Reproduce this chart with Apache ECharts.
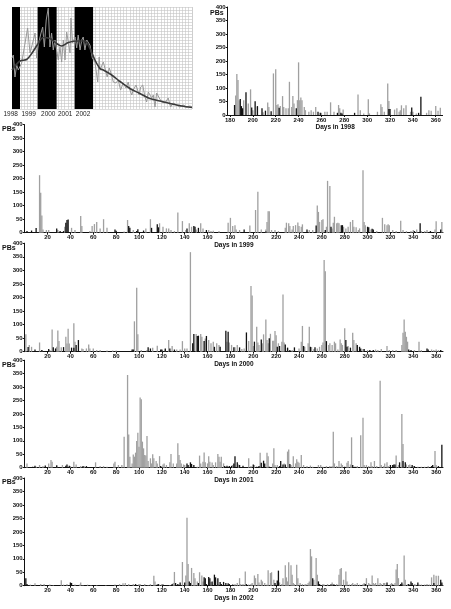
<!DOCTYPE html>
<html><head><meta charset="utf-8">
<script src="https://cdn.jsdelivr.net/npm/echarts@6/dist/echarts.min.js"></script>
<style>html,body{margin:0;padding:0;background:#fff}#c{width:451px;height:609px}</style>
</head><body><div id="c"></div>
<script>
// ---------- inset: solar cycle ----------
const insetYears = ['1998', '1999', '2000', '2001', '2002'];
const insetLabelPos = [1998.43, 1999.4, 2000.45, 2001.36, 2002.32];
const cycleBands = [[1998.5, 1998.93], [1999.88, 2000.9], [2001.87, 2002.86]];
const monthlyCycle = [
[1998.50,102],[1998.57,108],[1998.66,64],[1998.75,88],[1998.84,78],[1999.02,92],[1999.34,162],[1999.47,112],
[1999.65,138],[1999.74,152],[1999.83,102],[1999.91,128],[2000.06,152],[2000.15,164],[2000.24,124],[2000.34,178],
[2000.45,202],[2000.54,124],[2000.63,152],[2000.72,118],[2000.81,138],[2000.99,98],[2001.08,124],[2001.17,94],
[2001.26,138],[2001.35,98],[2001.44,154],[2001.53,152],[2001.62,112],[2001.67,182],[2001.76,132],[2001.89,144],
[2001.98,122],[2002.06,148],[2002.16,118],[2002.25,138],[2002.33,144],[2002.42,118],[2002.52,138],[2002.69,128],
[2002.82,102],[2002.96,94],[2003.11,54],[2003.19,104],[2003.23,78],[2003.41,94],[2003.50,98],[2003.62,64],
[2003.73,82],[2003.82,72],[2003.95,54],[2004.09,52],[2004.21,58],[2004.34,38],[2004.48,52],[2004.63,42],
[2004.75,54],[2004.84,38],[2004.94,28],[2005.02,38],[2005.17,48],[2005.34,28],[2005.42,44],[2005.53,48],
[2005.65,24],[2005.74,14],[2005.83,34],[2006.01,22],[2006.10,28],[2006.19,4],[2006.28,32],[2006.42,22],
[2006.55,14],[2006.73,12],[2006.90,22],[2007.03,4],[2007.17,12],[2007.35,8],[2007.53,4],[2007.71,8],
[2007.89,4],[2008.07,6],[2008.18,4]];
const smoothedCycle = [
[1998.50,78],[1998.93,96],[1999.29,99],[1999.56,111],[1999.91,131],[2000.18,143],[2000.54,141],[2000.90,131],
[2001.17,126],[2001.53,133],[2001.98,136],[2002.42,136],[2002.69,121],[2002.96,98],[2003.23,81],[2003.41,78],
[2003.86,68],[2004.31,55],[2004.84,41],[2005.38,31],[2005.91,21],[2006.45,16],[2006.99,11],[2007.62,6],[2008.18,3]];

// ---------- daily PBs ----------
const years = ['1998', '1999', '2000', '2001', '2002'];
const dayTicks = [180,200,220,240,260,280,300,320,340,360];
const gray1998 = [[185,72],[186,152],[187,130],[188,55],[192,55],[196,43],[198,95],[200,18],[204,30],[209,10],[213,46],[214,30],[218,154],[220,169],[221,37],[222,40],[224,33],[226,70],[227,30],[229,25],[231,25],[232,123],[234,30],[235,70],[236,43],[239,55],[240,195],[241,55],[242,65],[243,55],[245,30],[246,18],[249,12],[251,18],[253,12],[255,30],[260,8],[263,12],[265,12],[268,47],[271,12],[275,37],[276,25],[279,20],[292,76],[294,18],[297,6],[301,58],[302,6],[309,12],[312,40],[313,30],[315,12],[318,117],[319,52],[324,20],[326,25],[328,12],[329,18],[330,36],[332,25],[334,36],[338,12],[340,12],[343,6],[352,8],[354,18],[356,16],[360,33],[362,16],[364,27]];
const black1998 = [[184,37],[189,59],[190,33],[191,25],[194,84],[199,28],[202,51],[204,33],[208,25],[211,16],[216,14],[223,27],[238,25],[257,12],[259,8],[274,8],[277,8],[278,6],[289,8],[319,22],[320,22],[339,28],[345,8],[347,68]];
const gray1999 = [[13,213],[14,148],[15,64],[16,12],[19,10],[21,10],[29,10],[35,22],[41,18],[44,10],[49,62],[50,25],[57,6],[59,25],[61,32],[63,40],[66,16],[69,50],[72,18],[87,4],[90,47],[95,10],[98,6],[106,16],[110,50],[118,35],[121,22],[124,16],[126,16],[128,10],[131,6],[134,75],[138,43],[141,10],[144,35],[146,22],[150,12],[154,35],[156,16],[161,10],[163,6],[165,7],[170,6],[178,37],[180,55],[182,25],[184,28],[185,12],[188,10],[197,27],[202,84],[204,152],[207,12],[211,12],[212,40],[213,79],[214,79],[216,10],[219,10],[222,6],[228,18],[229,37],[231,35],[232,25],[234,12],[235,25],[237,28],[239,38],[240,25],[242,22],[243,31],[249,10],[252,10],[256,101],[257,77],[258,40],[260,47],[261,50],[264,22],[265,192],[267,173],[269,16],[270,37],[271,59],[273,35],[274,37],[275,35],[279,22],[281,16],[283,22],[285,40],[287,47],[288,22],[290,20],[292,10],[293,16],[296,231],[297,40],[298,28],[303,12],[308,6],[313,55],[315,31],[317,28],[318,31],[319,28],[322,10],[325,6],[329,44],[331,10],[334,6],[338,6],[340,10],[343,12],[347,6],[350,6],[352,10],[359,12],[360,42],[365,40]];
const black1999 = [[2,6],[6,8],[10,17],[28,16],[31,6],[34,6],[36,37],[37,47],[38,49],[79,12],[80,7],[91,25],[92,18],[98,6],[99,13],[104,8],[111,18],[116,31],[117,20],[142,16],[148,25],[149,22],[152,18],[159,10],[192,12],[211,4],[247,12],[255,27],[263,10],[268,22],[277,28],[278,28],[300,22],[301,20],[304,15],[305,12],[341,6],[346,35],[355,6],[364,12]];
const gray2000 = [[1,64],[4,25],[6,18],[13,34],[15,6],[22,6],[24,82],[28,18],[29,78],[30,39],[32,16],[36,55],[37,30],[38,85],[39,30],[43,105],[44,37],[50,12],[51,10],[54,12],[56,27],[57,12],[60,12],[63,6],[66,6],[72,4],[77,4],[80,4],[96,112],[98,236],[99,64],[102,6],[107,6],[112,15],[116,22],[120,6],[123,8],[126,43],[129,21],[133,8],[136,8],[138,39],[140,12],[142,12],[145,367],[150,65],[154,65],[155,55],[158,49],[161,43],[163,31],[165,37],[168,31],[170,25],[177,37],[179,34],[181,25],[184,16],[186,25],[190,10],[192,12],[196,39],[198,242],[199,207],[200,21],[203,92],[204,34],[205,25],[208,31],[209,64],[211,119],[212,43],[213,31],[215,66],[217,40],[218,40],[219,76],[220,61],[222,31],[225,37],[226,211],[227,34],[230,12],[234,6],[240,12],[242,37],[243,95],[245,18],[248,31],[249,92],[251,17],[253,10],[256,12],[258,18],[260,25],[261,34],[262,338],[263,297],[266,25],[267,31],[269,25],[271,37],[272,31],[274,8],[276,45],[277,31],[278,25],[280,86],[283,21],[287,70],[288,43],[290,31],[296,10],[300,6],[307,8],[309,6],[312,10],[317,21],[319,6],[322,6],[325,6],[330,25],[331,70],[332,119],[333,74],[334,55],[335,37],[341,6],[345,37],[347,6],[356,8],[358,6],[360,8],[362,6]];
const black2000 = [[3,17],[9,8],[15,6],[21,10],[25,16],[27,12],[34,17],[41,15],[43,15],[45,25],[47,43],[94,8],[95,8],[108,16],[110,12],[119,8],[120,8],[123,12],[127,12],[131,8],[147,31],[148,65],[151,58],[152,59],[157,39],[159,58],[166,18],[171,18],[176,77],[178,74],[183,16],[188,16],[194,71],[201,37],[207,45],[214,50],[221,18],[223,21],[228,27],[230,15],[232,6],[236,16],[244,21],[250,18],[254,16],[264,39],[281,43],[282,18],[285,15],[291,25],[293,18],[294,12],[297,10],[302,6],[305,6],[336,8],[338,6],[352,12],[353,8],[364,6]];
const gray2001 = [[2,16],[10,4],[13,10],[16,6],[21,16],[23,29],[24,22],[28,10],[33,10],[40,6],[43,22],[45,12],[49,6],[52,6],[62,20],[66,6],[69,6],[72,4],[78,16],[79,22],[82,10],[85,10],[87,115],[90,345],[91,124],[92,41],[94,16],[95,49],[96,41],[97,56],[98,99],[99,130],[100,78],[101,261],[102,255],[103,97],[104,72],[105,47],[106,45],[107,118],[108,25],[110,35],[111,16],[112,50],[113,35],[115,25],[116,16],[118,43],[121,12],[122,16],[124,10],[127,20],[128,51],[130,16],[133,16],[134,91],[135,47],[136,29],[137,16],[139,12],[140,10],[151,4],[153,45],[154,16],[156,22],[157,57],[158,20],[160,16],[161,43],[162,22],[164,19],[165,10],[167,20],[169,51],[170,41],[171,22],[172,41],[174,16],[182,10],[187,12],[196,35],[198,6],[201,10],[206,56],[212,56],[213,43],[217,16],[218,72],[219,10],[221,10],[227,16],[230,60],[231,68],[233,10],[235,43],[237,16],[238,31],[239,22],[240,18],[242,47],[244,10],[247,6],[250,8],[252,4],[257,10],[259,10],[261,4],[264,6],[267,6],[269,6],[270,134],[271,16],[273,6],[275,25],[277,16],[278,10],[282,18],[283,25],[285,12],[286,113],[291,6],[294,121],[296,186],[297,10],[299,10],[301,6],[303,20],[304,6],[306,25],[308,6],[311,324],[312,10],[314,6],[315,16],[317,20],[318,6],[325,45],[327,10],[330,200],[331,88],[334,12],[336,10],[337,12],[340,6],[344,4],[347,4],[350,4],[353,6],[359,62],[360,10]];
const black2001 = [[7,4],[9,7],[18,8],[28,8],[36,7],[37,12],[39,7],[51,6],[54,6],[119,6],[142,16],[143,10],[145,20],[146,14],[148,10],[175,6],[177,7],[179,6],[181,7],[183,16],[184,43],[186,20],[188,10],[191,7],[200,12],[203,4],[205,6],[207,18],[209,26],[210,16],[214,4],[223,6],[224,25],[226,12],[228,12],[232,14],[280,4],[287,10],[289,4],[320,10],[322,10],[323,12],[324,12],[328,20],[331,25],[333,20],[339,10],[341,6],[356,6],[357,10],[362,6],[365,85]];
const gray2002 = [[5,4],[9,9],[14,6],[17,6],[22,4],[25,2],[32,20],[34,4],[37,6],[44,4],[48,4],[49,12],[51,2],[55,4],[58,2],[63,2],[71,2],[79,4],[83,6],[86,9],[88,10],[91,6],[95,6],[100,6],[101,6],[105,6],[108,2],[110,6],[113,37],[114,16],[118,4],[120,6],[127,2],[130,10],[131,51],[138,88],[141,38],[142,252],[143,81],[146,66],[148,47],[149,28],[151,16],[153,50],[155,38],[156,16],[163,14],[169,6],[184,6],[186,10],[188,28],[189,6],[191,6],[193,53],[196,4],[198,6],[199,10],[201,38],[202,28],[204,43],[205,12],[207,22],[208,16],[210,10],[212,4],[213,57],[215,47],[216,50],[218,22],[223,12],[225,6],[226,28],[228,76],[229,31],[230,16],[231,87],[233,76],[234,41],[235,10],[236,6],[238,78],[239,28],[241,10],[243,6],[245,4],[246,6],[248,10],[249,16],[250,136],[251,109],[253,22],[255,103],[256,41],[261,6],[262,4],[265,6],[268,6],[269,12],[273,6],[275,41],[276,62],[277,66],[279,22],[281,53],[282,16],[284,4],[286,6],[287,10],[289,6],[291,10],[293,4],[296,6],[297,10],[299,28],[301,10],[302,6],[304,38],[305,10],[306,6],[307,10],[309,28],[311,10],[312,6],[314,10],[315,10],[320,6],[321,10],[324,10],[325,60],[326,81],[327,28],[331,6],[332,112],[333,22],[335,6],[341,6],[342,4],[345,4],[347,4],[350,4],[352,6],[354,4],[356,31],[358,41],[360,37],[362,37],[365,4]];
const black2002 = [[1,28],[2,6],[19,2],[40,12],[41,10],[47,2],[69,2],[97,6],[116,4],[117,6],[121,4],[129,6],[132,10],[134,6],[136,12],[140,12],[144,16],[145,10],[152,10],[157,31],[158,28],[159,6],[161,32],[162,28],[164,16],[166,41],[167,31],[169,28],[171,14],[172,6],[174,14],[176,10],[178,9],[179,6],[182,4],[194,6],[219,10],[221,19],[222,56],[252,28],[257,16],[258,6],[268,4],[270,4],[271,4],[298,6],[317,12],[322,4],[329,6],[330,12],[336,6],[338,16],[339,10],[344,12],[358,10],[364,22],[365,12]];

const grayData = [gray1998, gray1999, gray2000, gray2001, gray2002];
const blackData = [black1998, black1999, black2000, black2001, black2002];

const FONT = 'Liberation Sans, Arial, sans-serif';
const GRAY = '#a0a0a0', BLACK = '#111';
const panels = [
  {left: 227.7, top: 7, width: 214.9, height: 108, min: 178, max: 366},
  {left: 24.7, top: 124.7, width: 418.3, height: 108, min: 0, max: 366},
  {left: 24.7, top: 243.2, width: 418.3, height: 108.5, min: 0, max: 366},
  {left: 24.7, top: 360.2, width: 418.3, height: 107.5, min: 0, max: 366},
  {left: 24.7, top: 478, width: 418.3, height: 107.7, min: 0, max: 366}
];

// grid 0: inset plot, grid 1: inset year labels (same scale, extended left)
const grid = [
  {left: 12, top: 7, width: 180, height: 102},
  {left: 8.28, top: 7, width: 183.72, height: 102}
];
const xAxis = [
  {gridIndex: 0, type: 'value', min: 1998.5, max: 2008.18, interval: 1/6,
   axisLine: {show: false}, axisTick: {show: false}, axisLabel: {show: false},
   splitLine: {show: true, lineStyle: {color: '#c4c4c4', width: 0.6}}},
  {gridIndex: 1, type: 'value', min: 1998.3, max: 2008.18, position: 'bottom',
   axisLine: {show: false}, axisTick: {show: false}, splitLine: {show: false},
   axisLabel: {customValues: insetLabelPos, showMinLabel: true, showMaxLabel: true, interval: 0,
     formatter: v => insetYears[insetLabelPos.indexOf(v)] || '',
     fontSize: 6.5, color: '#222', fontFamily: FONT, margin: 2}}
];
const yAxis = [
  {gridIndex: 0, type: 'value', min: 0, max: 204, interval: 6,
   axisLine: {show: false}, axisTick: {show: false}, axisLabel: {show: false},
   splitLine: {show: true, lineStyle: {color: '#c4c4c4', width: 0.6}}},
  {gridIndex: 1, type: 'value', min: 0, max: 1, show: false}
];
const series = [
  {type: 'line', xAxisIndex: 0, yAxisIndex: 0, data: [], z: 1, silent: true,
   markArea: {silent: true, itemStyle: {color: '#000'},
     data: cycleBands.map(b => [{xAxis: b[0]}, {xAxis: b[1]}])}},
  {type: 'line', xAxisIndex: 0, yAxisIndex: 0, data: monthlyCycle, z: 3, symbol: 'none',
   lineStyle: {color: '#9a9a9a', width: 1}},
  {type: 'line', xAxisIndex: 0, yAxisIndex: 0, data: smoothedCycle, z: 4, symbol: 'none', smooth: 0.3,
   lineStyle: {color: '#3a3a3a', width: 1.6}},
  {type: 'line', xAxisIndex: 1, yAxisIndex: 1, data: [], silent: true}
];
const graphic = [];

panels.forEach((p, i) => {
  const gi = i + 2;
  grid.push({left: p.left, top: p.top, width: p.width, height: p.height});
  const xa = {gridIndex: gi, type: 'value', min: p.min, max: p.max,
    name: 'Days in ' + years[i], nameLocation: 'middle', nameGap: 8,
    nameTextStyle: {fontSize: 6.5, fontWeight: 'bold', color: '#111', fontFamily: FONT},
    axisLine: {show: true, lineStyle: {color: '#111', width: 1}},
    axisTick: {show: true, length: 2, lineStyle: {color: '#111'}},
    splitLine: {show: false},
    axisLabel: {fontSize: 6, fontWeight: 'bold', color: '#111', fontFamily: FONT, margin: 2}};
  if (i === 0) {
    xa.axisLabel.customValues = dayTicks;
    xa.axisTick.customValues = dayTicks;
    xa.axisLabel.showMinLabel = true;
    xa.axisLabel.showMaxLabel = true;
  } else {
    xa.interval = 20;
    xa.axisLabel.showMinLabel = false;
    xa.axisLabel.showMaxLabel = false;
  }
  xAxis.push(xa);
  yAxis.push({gridIndex: gi, type: 'value', min: 0, max: 400, interval: 50,
    axisLine: {show: true, lineStyle: {color: '#111', width: 1}},
    axisTick: {show: true, length: 2, lineStyle: {color: '#111'}},
    splitLine: {show: false},
    axisLabel: {fontSize: 6, fontWeight: 'bold', color: '#111', fontFamily: FONT, margin: 2}});
  series.push({type: 'bar', xAxisIndex: gi, yAxisIndex: gi, data: grayData[i], barWidth: 1.3, barGap: '-100%',
    itemStyle: {color: GRAY}, z: 2});
  series.push({type: 'bar', xAxisIndex: gi, yAxisIndex: gi, data: blackData[i], barWidth: 1.3, barGap: '-100%',
    itemStyle: {color: BLACK}, z: 3});
  graphic.push({type: 'text', left: i === 0 ? 210 : 2, top: i === 0 ? p.top + 3 : p.top + 1,
    style: {text: 'PBs', font: 'bold 7px ' + FONT, fill: '#111'}});
});

const chart = echarts.init(document.getElementById('c'), null, {renderer: 'canvas'});
chart.setOption({animation: false, backgroundColor: '#fff', grid, xAxis, yAxis, series, graphic});
</script></body></html>
